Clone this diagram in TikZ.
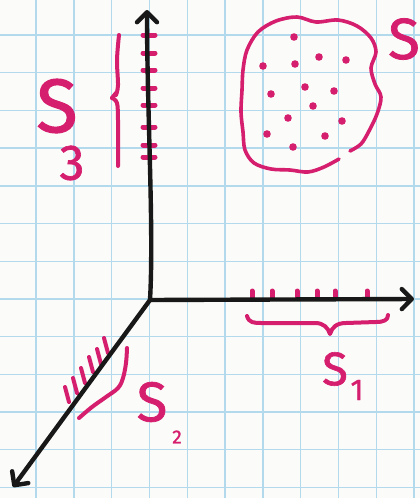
\documentclass[tikz,border=0pt]{standalone}
\usepackage{fontspec}
\setmainfont{Fira Sans}
\newfontfamily\handf{Fira Sans}[FakeBold=1.3]
\usetikzlibrary{arrows.meta}
\definecolor{paper}{RGB}{251,251,249}
\definecolor{gridc}{RGB}{178,218,236}
\definecolor{ink}{RGB}{24,24,24}
\definecolor{mag}{RGB}{214,30,110}
\tikzset{
  gridline/.style={draw=gridc, line width=1.4pt},
  axis/.style={draw=ink, line width=4.4pt, line cap=round, line join=round,
    -{Straight Barb[length=10pt,width=20pt,round]}},
  hand/.style={draw=mag, line width=4pt, line cap=round, line join=round},
  tick/.style={draw=mag, line width=5pt, line cap=round},
  lbl/.style={text=mag, inner sep=0pt, anchor=center, font=\handf},
  dotm/.style={fill=mag}
}
\begin{document}
\begin{tikzpicture}[x=1pt,y=-1pt]
\useasboundingbox (0,0) rectangle (420,498);
\fill[paper] (0,0) rectangle (420,498);
% grid
\foreach \k in {0,...,11} {\draw[gridline] ({-1.8+37.8*\k},0) -- ({-1.8+37.8*\k},498);}
\foreach \k in {0,...,13} {\draw[gridline] (0,{-2.7+37.7*\k}) -- (420,{-2.7+37.7*\k});}

% coordinates
\coordinate (O) at (150,300);
\coordinate (Y) at (147,10);
\coordinate (X) at (414,299);
\coordinate (Z) at (13,487);

% S3 ticks on vertical axis
\foreach \y in {35,53,70,88,105,127,145,157} {\draw[tick] (143,\y) -- (155,\y);}
% S1 ticks
\foreach \x in {252,272,297,317,335,367} {\draw[tick] (\x,291) -- (\x,298);}
% S2 ticks
\foreach \x/\y in {104/338,97/349,89/357,81/368,73/378,65/387} {\draw[tick, line width=4pt] (\x,\y) -- ++(4,15);}

% axes
\draw[axis] (O) .. controls (154,230) and (147,110) .. (Y);
\draw[axis] (O) -- (X);
\draw[axis] (O) -- (Z);

% S3 brace
\draw[hand] plot[smooth, tension=0.6] coordinates {(119,35) (117,60) (118,85) (116,95)};
\draw[hand] plot[smooth, tension=0.6] coordinates {(112,98) (117,103) (118,120) (118,145) (118,166)};
\draw[hand] (116,93) -- (112,98);
% S1 brace
\draw[hand] (247,316) .. controls (249,323) and (254,323) .. (262,323)
  -- (315,323) .. controls (324,323) and (328,328) .. (330,334)
  .. controls (332,327) and (337,323) .. (346,323)
  -- (376,322) .. controls (384,322) and (388,320) .. (388,315);
% S2 brace
\draw[hand] plot[smooth, tension=0.6] coordinates {(127,348) (126,363) (123,378) (118,388) (106,397) (92,407) (79,418)};

% set S blob
\draw[hand, line width=3.6pt] plot[smooth, tension=0.55] coordinates {
 (339,159) (324,167) (308,172) (290,170) (271,169) (254,163) (245,150)
 (243,132) (241,112) (242,90) (243,70) (247,50) (258,32) (276,21) (297,17)
 (316,22) (338,20) (357,26) (371,38) (376,52) (371,68) (375,84) (381,97)
 (377,114) (369,131) (361,144) (350,151)};
% dots
\foreach \x/\y in {294/37,263/66,295/64,319/57,346/60,271/94,305/87,334/91,
  313/106,288/118,342/121,267/134,325/136,293/147} {\fill[dotm] (\x,\y) circle (3.8pt);}

% labels
\node[lbl] (s3) at (57,106) {\fontsize{76}{76}\selectfont S};
\node[lbl] (s3i) at (72,163) {\fontsize{50}{50}\selectfont 3};
\node[lbl] (s) at (404,39) {\fontsize{58}{58}\selectfont S};
\node[lbl] (s1) at (335,369) {\fontsize{47}{47}\selectfont S};
\node[lbl] (s1i) at (357,390) {\fontsize{30}{30}\selectfont 1};
\node[lbl] (s2) at (152,402) {\fontsize{56}{56}\selectfont S};
\node[lbl] (s2i) at (177,437) {\fontsize{19}{19}\selectfont 2};
\end{tikzpicture}
\end{document}
